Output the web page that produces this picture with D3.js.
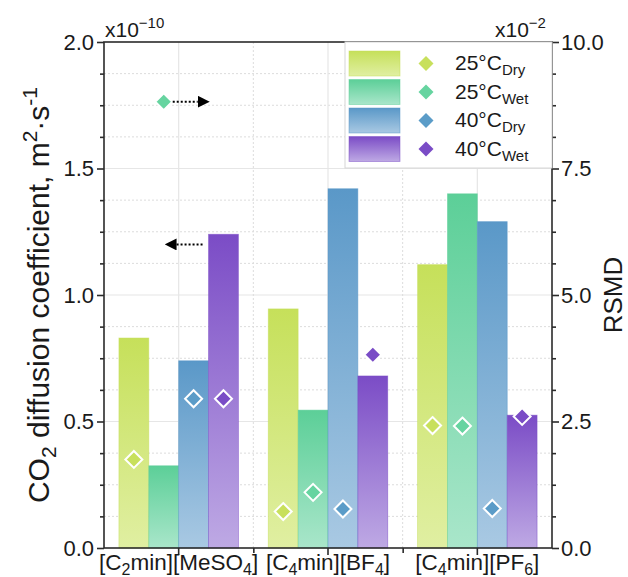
<!DOCTYPE html>
<html>
<head>
<meta charset="utf-8">
<script src="https://cdn.jsdelivr.net/npm/d3@7"></script>
<style>
  html, body { margin: 0; padding: 0; background: #fff; }
  svg { display: block; font-family: "Liberation Sans", Arial, sans-serif; }
</style>
</head>
<body>
<svg id="chart" width="628" height="577"></svg>
<script>
// Ionic liquids (use "_x" for a subscript character)
const categories = ["[C_2min][MeSO_4]", "[C_4min][BF_4]", "[C_4min][PF_6]"];
const seriesKeys = ["25Dry", "25Wet", "40Dry", "40Wet"];
const seriesTemp = ["25°C", "25°C", "40°C", "40°C"];
const seriesCond = ["Dry", "Wet", "Dry", "Wet"];

// CO2 diffusion coefficient (x1e-10 m2/s), one value per ionic liquid
const diffusion25Dry = [0.83, 0.945, 1.12];
const diffusion25Wet = [0.325, 0.545, 1.40];
const diffusion40Dry = [0.74, 1.42, 1.29];
const diffusion40Wet = [1.24, 0.68, 0.525];

// RSMD of the fits (x1e-2)
const rsmd25Dry = [1.75, 0.72, 2.42];
const rsmd25Wet = [8.82, 1.10, 2.41];
const rsmd40Dry = [2.95, 0.77, 0.78];
const rsmd40Wet = [2.95, 3.82, 2.60];

const leftTicks = [0.0, 0.5, 1.0, 1.5, 2.0];
const rightTicks = [0.0, 2.5, 5.0, 7.5, 10.0];

const barTop = ["#c6e05a", "#5ccf98", "#5a98c8", "#7b4cc6"];
const barBottom = ["#e0efa2", "#a9e6ca", "#a9c9e3", "#bea9e4"];
const markFill = ["#c8e05c", "#66d4a0", "#5b9cc8", "#7a4cc6"];

const diffusion = [diffusion25Dry, diffusion25Wet, diffusion40Dry, diffusion40Wet];
const rsmd = [rsmd25Dry, rsmd25Wet, rsmd40Dry, rsmd40Wet];

const W = 628, H = 577;
const m = { left: 104, right: 76, top: 42, bottom: 29 };
const x0 = m.left, x1 = W - m.right, yTop = m.top, yBot = H - m.bottom;

const svg = d3.select("#chart");

const x = d3.scaleBand().domain(categories).range([x0, x1]).paddingInner(0.2).paddingOuter(0.1);
const xs = d3.scaleBand().domain(seriesKeys).range([0, x.bandwidth()]);
const yL = d3.scaleLinear().domain([0, 2.0]).range([yBot, yTop]);
const yR = d3.scaleLinear().domain([0, 10.0]).range([yBot, yTop]);

const step = x.step();
const centers = categories.map(c => x(c) + x.bandwidth() / 2);
const bounds = d3.range(1, categories.length).map(i => x0 + step * i);

// gradients
const defs = svg.append("defs");
seriesKeys.forEach((k, i) => {
  const g = defs.append("linearGradient").attr("id", "g" + k)
    .attr("x1", 0).attr("y1", 0).attr("x2", 0).attr("y2", 1);
  g.append("stop").attr("offset", "0%").attr("stop-color", barTop[i]);
  g.append("stop").attr("offset", "100%").attr("stop-color", barBottom[i]);
});
defs.append("marker").attr("id", "arrow").attr("viewBox", "0 0 10 10")
  .attr("refX", 0).attr("refY", 5).attr("markerWidth", 12).attr("markerHeight", 12)
  .attr("markerUnits", "userSpaceOnUse").attr("orient", "auto")
  .append("path").attr("d", "M0,0 L10,5 L0,10 Z").attr("fill", "#000");

// grid
const grid = svg.append("g");
const minorY = d3.range(0.125, 2.0, 0.125).filter(v => Math.abs(v / 0.5 - Math.round(v / 0.5)) > 1e-6);
grid.selectAll(".gmy").data(minorY).join("line")
  .attr("x1", x0).attr("x2", x1).attr("y1", d => yL(d)).attr("y2", d => yL(d))
  .attr("stroke", "#dcdcdc").attr("stroke-width", 1).attr("stroke-dasharray", "2,2");
grid.selectAll(".gMy").data([0.5, 1.0, 1.5]).join("line")
  .attr("x1", x0).attr("x2", x1).attr("y1", d => yL(d)).attr("y2", d => yL(d))
  .attr("stroke", "#e6e6e6").attr("stroke-width", 1.2);
grid.selectAll(".gmx").data(bounds).join("line")
  .attr("x1", d => d).attr("x2", d => d).attr("y1", yTop).attr("y2", yBot)
  .attr("stroke", "#dcdcdc").attr("stroke-width", 1).attr("stroke-dasharray", "2,2");
grid.selectAll(".gMx").data(centers).join("line")
  .attr("x1", d => d).attr("x2", d => d).attr("y1", yTop).attr("y2", yBot)
  .attr("stroke", "#e6e6e6").attr("stroke-width", 1.2);

// bars
const bars = svg.append("g");
seriesKeys.forEach((k, i) => {
  bars.selectAll(".b" + k).data(categories).join("rect")
    .attr("x", c => x(c) + xs(k))
    .attr("width", xs.bandwidth())
    .attr("y", (c, j) => yL(diffusion[i][j]))
    .attr("height", (c, j) => yBot - yL(diffusion[i][j]))
    .attr("fill", `url(#g${k})`)
    .attr("stroke", barTop[i]).attr("stroke-opacity", 0.6).attr("stroke-width", 0.8);
});

// RSMD diamonds
const marks = svg.append("g");
const dsz = 8.5;
seriesKeys.forEach((k, i) => {
  marks.selectAll(".d" + k).data(categories).join("path")
    .attr("transform", (c, j) => `translate(${x(c) + xs(k) + xs.bandwidth() / 2},${yR(rsmd[i][j])})`)
    .attr("d", `M0,${-dsz} L${dsz},0 L0,${dsz} L${-dsz},0 Z`)
    .attr("fill", markFill[i])
    .attr("stroke", "#fff").attr("stroke-width", 2);
});

// arrows pointing to the axis each series belongs to
const arrows = svg.append("g");
{
  const c0 = categories[0];
  const xw = x(c0) + xs("25Wet") + xs.bandwidth() / 2;
  const yA = yR(rsmd25Wet[0]);
  arrows.append("line").attr("x1", xw + 9).attr("x2", xw + 34).attr("y1", yA).attr("y2", yA)
    .attr("stroke", "#000").attr("stroke-width", 2).attr("stroke-dasharray", "2,2")
    .attr("marker-end", "url(#arrow)");
  const yB = yL(1.2);
  const xb = x(c0) + xs("40Dry") + xs.bandwidth() * 0.8;
  arrows.append("line").attr("x1", xb).attr("x2", xb - 26).attr("y1", yB).attr("y2", yB)
    .attr("stroke", "#000").attr("stroke-width", 2).attr("stroke-dasharray", "2,2")
    .attr("marker-end", "url(#arrow)");
}

// frame and axes
const axisColor = "#2b2b2b";
svg.append("rect").attr("x", x0).attr("y", yTop).attr("width", x1 - x0).attr("height", yBot - yTop)
  .attr("fill", "none").attr("stroke", axisColor).attr("stroke-width", 1.6);

const fontTick = 22;
const left = svg.append("g").attr("transform", `translate(${x0},0)`)
  .call(d3.axisLeft(yL).tickValues(leftTicks).tickFormat(d3.format(".1f")).tickSize(7).tickPadding(3));
const leftMinor = svg.append("g").attr("transform", `translate(${x0},0)`)
  .call(d3.axisLeft(yL).tickValues(minorY).tickFormat("").tickSize(4));
const right = svg.append("g").attr("transform", `translate(${x1},0)`)
  .call(d3.axisRight(yR).tickValues(rightTicks).tickFormat(d3.format(".1f")).tickSize(7).tickPadding(2));
const rightMinor = svg.append("g").attr("transform", `translate(${x1},0)`)
  .call(d3.axisRight(yR).tickValues(d3.range(0.625, 10, 0.625).filter(v => Math.abs(v / 2.5 - Math.round(v / 2.5)) > 1e-6)).tickFormat("").tickSize(4));
const bottom = svg.append("g").attr("transform", `translate(0,${yBot})`)
  .call(d3.axisBottom(x).tickFormat("").tickSize(7));
const bottomMinor = svg.append("g").attr("transform", `translate(0,${yBot})`)
  .call(d3.axisBottom(d3.scaleLinear().domain([x0, x1]).range([x0, x1])).tickValues(bounds).tickFormat("").tickSize(5));

[left, leftMinor, right, rightMinor, bottom, bottomMinor].forEach(g => {
  g.select(".domain").remove();
  g.selectAll("line").attr("stroke", axisColor).attr("stroke-width", 1.6);
  g.selectAll("text").attr("font-size", fontTick).attr("fill", "#1a1a1a")
    .attr("font-family", "'Liberation Sans', Arial, sans-serif");
});

// category labels with subscripts
function richText(sel, str, subSize, shift) {
  const parts = str.split(/(_.)/).filter(s => s.length);
  let lowered = false;
  parts.forEach(p => {
    if (p[0] === "_") {
      sel.append("tspan").attr("font-size", subSize).attr("dy", shift).text(p[1]);
      lowered = true;
    } else {
      const t = sel.append("tspan").text(p);
      if (lowered) { t.attr("dy", -shift); lowered = false; }
    }
  });
}
categories.forEach((c, j) => {
  const t = svg.append("text").attr("x", centers[j]).attr("y", 570)
    .attr("text-anchor", "middle").attr("font-size", 22.5).attr("fill", "#1a1a1a");
  richText(t, c, 16, 5);
});

// exponent labels
function expLabel(xp, yp, base, exp) {
  const t = svg.append("text").attr("x", xp).attr("y", yp).attr("font-size", 21).attr("fill", "#1a1a1a");
  t.append("tspan").text(base);
  t.append("tspan").attr("font-size", 15).attr("dy", -9).text(exp);
}
expLabel(x0 + 1, 37, "x10", "\u221210");
expLabel(x1 - 57, 37, "x10", "\u22122");

// axis titles
const yt = svg.append("text").attr("transform", `translate(49,${(yTop + yBot) / 2}) rotate(-90)`)
  .attr("text-anchor", "middle").attr("font-size", 30).attr("fill", "#1a1a1a");
yt.append("tspan").text("CO");
yt.append("tspan").attr("font-size", 21).attr("dy", 7).text("2");
yt.append("tspan").attr("dy", -7).text(" diffusion coefficient, m");
yt.append("tspan").attr("font-size", 21).attr("dy", -12).text("2");
yt.append("tspan").attr("dy", 12).text("\u00b7s");
yt.append("tspan").attr("font-size", 21).attr("dy", -12).text("-1");

svg.append("text").attr("transform", `translate(622,${(yTop + yBot) / 2}) rotate(-90)`)
  .attr("text-anchor", "middle").attr("font-size", 26).attr("fill", "#1a1a1a").text("RSMD");

// legend
const lg = svg.append("g");
const lgX = 345, lgY = 46, rowH = 28.5;
lg.append("rect").attr("x", lgX).attr("y", yTop).attr("width", x1 - lgX).attr("height", 126)
  .attr("fill", "#fff").attr("stroke", "#d6d6d6").attr("stroke-width", 1);
seriesKeys.forEach((k, i) => {
  const yy = lgY + 5 + i * rowH;
  lg.append("rect").attr("x", lgX + 4).attr("y", yy).attr("width", 51).attr("height", 25)
    .attr("fill", `url(#g${k})`).attr("stroke", barTop[i]).attr("stroke-opacity", 0.6).attr("stroke-width", 0.8);
  lg.append("path").attr("transform", `translate(${lgX + 81},${yy + 12.5})`)
    .attr("d", "M0,-7.5 L7.5,0 L0,7.5 L-7.5,0 Z").attr("fill", markFill[i]);
  const t = lg.append("text").attr("x", lgX + 110).attr("y", yy + 19).attr("font-size", 21).attr("fill", "#1a1a1a");
  t.append("tspan").text(seriesTemp[i]);
  t.append("tspan").attr("font-size", 15).attr("dy", 5).text(seriesCond[i]);
});
</script>
</body>
</html>
